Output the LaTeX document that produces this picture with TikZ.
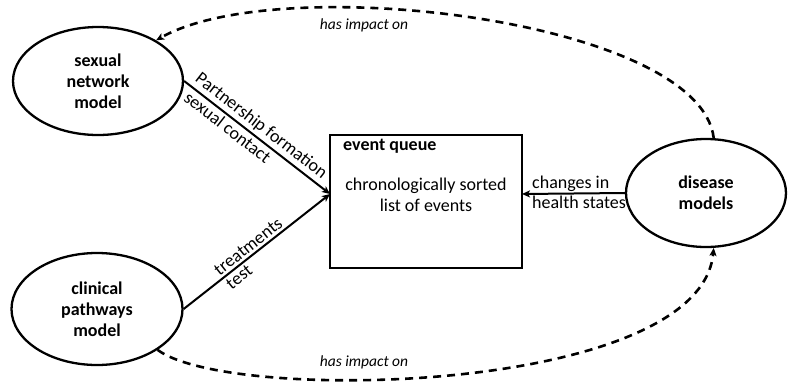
\documentclass[tikz,border=0pt]{standalone}
\usepackage{fontspec}
\setmainfont{Carlito}
\usetikzlibrary{shapes.geometric,arrows.meta}

\begin{document}
\begin{tikzpicture}[x=1pt,y=-1pt,
  every node/.style={font=\fontsize{18}{21}\selectfont},
  model/.style={ellipse,draw,line width=2.3pt,inner sep=0pt,align=center,font=\fontsize{18}{21}\selectfont\bfseries},
  queuebox/.style={rectangle,draw,line width=2.4pt,inner sep=0pt},
  flow/.style={line width=2pt,-{Stealth[length=8pt,width=7pt,inset=2pt]}},
  impact/.style={line width=2.6pt,dash pattern=on 8pt off 6pt,-{Stealth[length=8pt,width=7pt,inset=2pt]}},
  lbl/.style={inner sep=2.5pt},
  note/.style={font=\fontsize{15.5}{19}\selectfont\itshape}]

  \useasboundingbox (0,0) rectangle (788,381);

  % the three models
  \node[model,minimum width=170pt,minimum height=108pt] (sn) at (98,81) {sexual\\network\\model};
  \node[model,minimum width=171pt,minimum height=112pt] (cp) at (97,309) {clinical\\pathways\\model};
  \node[model,minimum width=160pt,minimum height=108pt] (dm) at (706,193) {disease\\models};

  % event queue
  \node[queuebox,minimum width=192pt,minimum height=133pt] (eq) at (426,201.5) {};
  \node[anchor=north west,inner sep=0pt,font=\fontsize{18}{21}\selectfont\bfseries] (eqt) at (343,139) {event queue};
  \node[align=center,inner sep=0pt] (eqd) at (426,195) {chronologically sorted\\list of events};

  \coordinate (qin) at (330,194);
  \coordinate (qout) at (522,194);

  % event flows into the queue
  \draw[flow] (sn.east) -- node[lbl,pos=0.48,above,sloped] {Partnership formation}
                           node[lbl,pos=0.34,below,sloped] {sexual contact} (qin);
  \draw[flow] (cp.east) -- node[lbl,pos=0.48,above,sloped] {treatments}
                           node[lbl,pos=0.34,below,sloped] {test} (qin);
  \draw[flow] (dm.west) -- (qout);
  \node[anchor=south west,inner sep=2pt] (chg1) at (530,194) {changes in};
  \node[anchor=north west,inner sep=2pt] (chg2) at (530,194) {health states};

  % mutual impact between the models
  \draw[impact] (dm.82) .. controls (700,20) and (280,-30) .. (sn.35);
  \node[note] (imp1) at (364,25) {has impact on};
  \draw[impact] (cp.-34) .. controls (230,404) and (700,394) .. (dm.-82);
  \node[note] (imp2) at (364,362) {has impact on};
\end{tikzpicture}
\end{document}
